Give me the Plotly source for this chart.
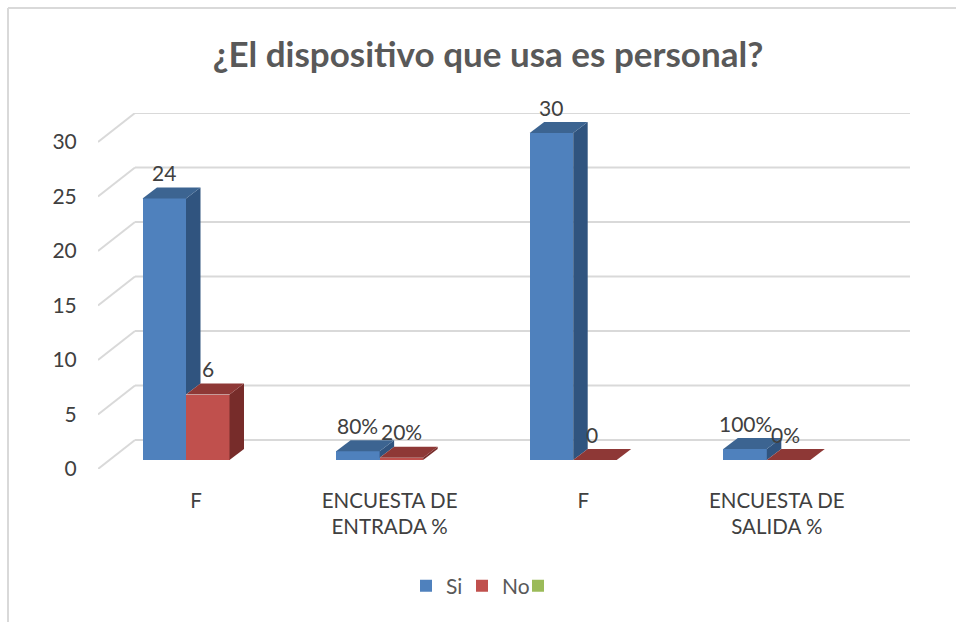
import plotly.graph_objects as go

# ---- data ----
CATEGORIES = ["F", "ENCUESTA DE<br>ENTRADA %", "F", "ENCUESTA DE<br>SALIDA %"]
SI_VALUES = [24, 0.8, 30, 1]
NO_VALUES = [6, 0.2, 0, 0]
SI_LABELS = ["24", "80%", "30", "100%"]
NO_LABELS = ["6", "20%", "0", "0%"]
Y_TICKS = [0, 5, 10, 15, 20, 25, 30]
TITLE = "¿El dispositivo que usa es personal?"

# ---- geometry ----
W, H = 956, 622
L, R, T, B = 98, 910, 113, 469
PX_PER_CAT = 193.6
PX_PER_UNIT = 10.9
X0_PX = 186.0
def dx(px): return px / PX_PER_CAT
def dy(px): return px / PX_PER_UNIT
BAR_W = dx(43.5)
BASE = dy(9)
BAR_DX, BAR_DY = dx(14.5), dy(11)
WALL_DX, WALL_DY = dx(37), dy(29)
LABEL_X_SHIFT = dx(10)

BLUE, BLUE_SIDE, BLUE_TOP = "#4F81BD", "#30547F", "#3C6491"
RED, RED_SIDE, RED_TOP = "#C0504D", "#772C2A", "#8E3836"
GREEN = "#9BBB59"
GRID = "#D9D9D9"
TXT = "#404040"
FONT = "Lato"

groups = list(range(len(CATEGORIES)))
fig = go.Figure()

# wall + floor gridlines, kept behind the bars as below-layer shapes
x_left = (L - X0_PX) / PX_PER_CAT
x_right = (R - X0_PX) / PX_PER_CAT
shapes = []
for t in Y_TICKS:
    shapes.append(dict(type="line", xref="x", yref="y", layer="below",
                       x0=x_left, x1=x_left + WALL_DX, y0=t, y1=t + WALL_DY,
                       line=dict(color=GRID, width=2)))
    shapes.append(dict(type="line", xref="x", yref="y", layer="below",
                       x0=x_left + WALL_DX, x1=x_right, y0=t + WALL_DY, y1=t + WALL_DY,
                       line=dict(color=GRID, width=2)))

# front faces
si_x = [g - BAR_W / 2 for g in groups]
no_x = [g + BAR_W / 2 for g in groups]
fig.add_trace(go.Bar(x=si_x, y=SI_VALUES, base=BASE, width=BAR_W, name="Si",
                     marker=dict(color=BLUE, line=dict(width=0)), cliponaxis=False))
fig.add_trace(go.Bar(x=no_x, y=NO_VALUES, base=BASE, width=BAR_W, name="No",
                     marker=dict(color=RED, line=dict(width=0)), cliponaxis=False))
fig.add_trace(go.Bar(x=groups, y=[None] * len(groups), width=BAR_W, name=" ",
                     marker=dict(color=GREEN, line=dict(width=0))))

def poly(xs, ys, color):
    fig.add_trace(go.Scatter(x=xs, y=ys, mode="lines", fill="toself", fillcolor=color,
                             line=dict(width=0, color=color), showlegend=False,
                             hoverinfo="skip", cliponaxis=False))

def faces(cx, value, floor, side, top):
    x1, x2 = cx - BAR_W / 2, cx + BAR_W / 2
    y = BASE + value
    f = BASE + floor
    poly([x2, x2 + BAR_DX, x2 + BAR_DX, x2, x2],
         [y, y + BAR_DY, f + BAR_DY, f, y], side)
    poly([x1, x1 + BAR_DX, x2 + BAR_DX, x2, x1],
         [y, y + BAR_DY, y + BAR_DY, y, y], top)

for i in groups:
    # the Si side face stops where the neighbouring No bar's top begins
    faces(si_x[i], SI_VALUES[i], NO_VALUES[i], BLUE_SIDE, BLUE_TOP)
    faces(no_x[i], NO_VALUES[i], 0, RED_SIDE, RED_TOP)

# data labels
for xs, vals, labs in ((si_x, SI_VALUES, SI_LABELS), (no_x, NO_VALUES, NO_LABELS)):
    for x, v, s in zip(xs, vals, labs):
        fig.add_annotation(x=x, y=BASE + v, text=s, showarrow=False, yshift=26,
                           xshift=-3 if v == 0 else 0,
                           font=dict(family=FONT, size=21, color=TXT))

# outer frame: top and left edges only
fx = lambda px: (px - L) / (R - L)
fy = lambda px: (B - px) / (B - T)
shapes.append(dict(type="line", xref="paper", yref="paper", x0=fx(8), x1=fx(W), y0=fy(8), y1=fy(8),
                   line=dict(color=GRID, width=2)))
shapes.append(dict(type="line", xref="paper", yref="paper", x0=fx(8), x1=fx(8), y0=fy(8), y1=fy(H),
                   line=dict(color=GRID, width=2)))

fig.update_layout(
    width=W, height=H, margin=dict(l=L, r=W - R, t=T, b=H - B),
    paper_bgcolor="white", plot_bgcolor="white",
    barmode="overlay", bargap=0,
    title=dict(text=f"<b>{TITLE}</b>", x=488 / W, xanchor="center", y=1 - 55 / H, yanchor="middle",
               font=dict(family=FONT, size=35, color="#595959")),
    xaxis=dict(range=[x_left, x_right], tickmode="array",
               tickvals=[g + LABEL_X_SHIFT for g in groups], ticktext=CATEGORIES,
               ticks="outside", ticklen=13, tickcolor="rgba(0,0,0,0)",
               showgrid=False, zeroline=False, showline=False,
               tickfont=dict(family=FONT, size=20.5, color=TXT)),
    yaxis=dict(range=[0, (B - T) / PX_PER_UNIT], tickmode="array", tickvals=Y_TICKS,
               ticks="outside", ticklen=16, tickcolor="rgba(0,0,0,0)",
               showgrid=False, zeroline=False, showline=False,
               tickfont=dict(family=FONT, size=21, color=TXT)),
    legend=dict(orientation="h", x=490 / W, xanchor="center", y=1 - 586 / H, yanchor="middle",
                yref="container", xref="container", entrywidth=11, entrywidthmode="pixels",
                font=dict(family=FONT, size=21, color="#595959"), itemclick=False, itemdoubleclick=False),
    shapes=shapes,
)
fig.write_html("out.html", config=dict(displayModeBar=False),
               post_script="document.body.style.margin='0';")
